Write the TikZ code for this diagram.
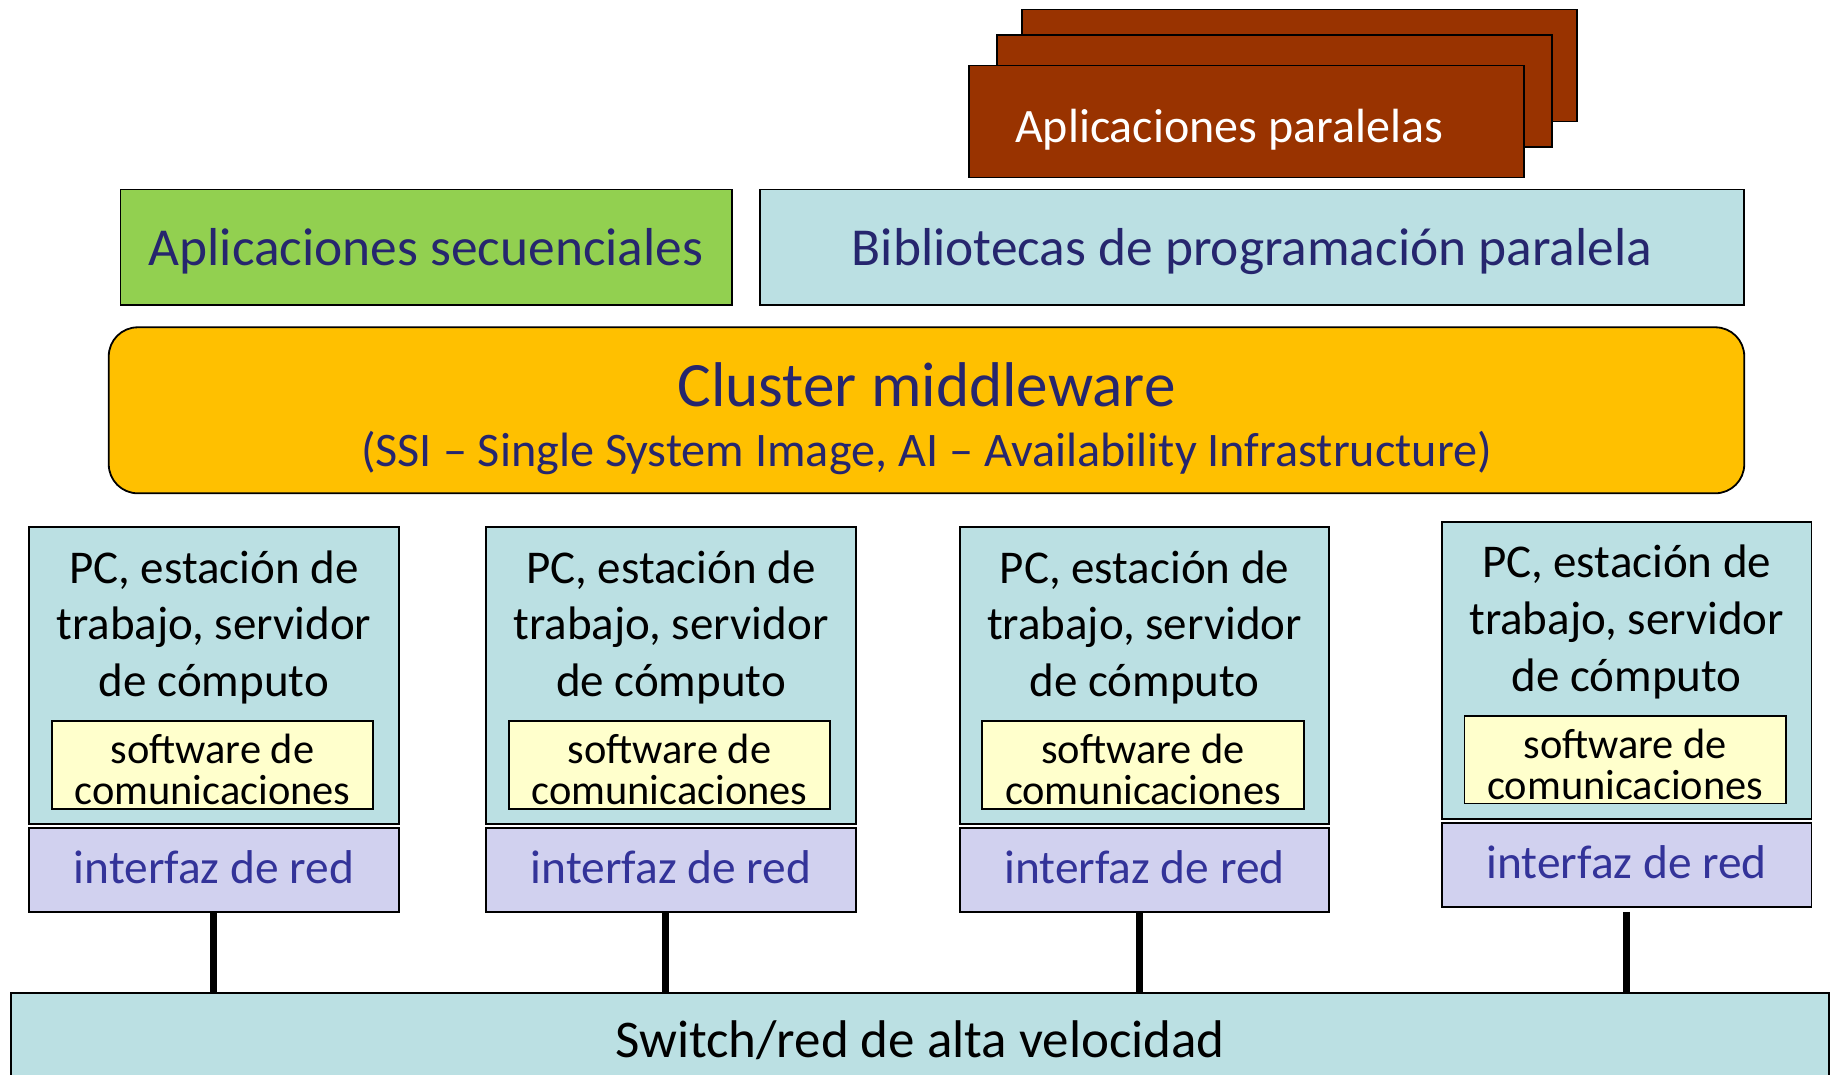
\documentclass[tikz,border=0pt]{standalone}
\usepackage{fontspec}
\setmainfont{Carlito}
\usetikzlibrary{calc}
\definecolor{brownapp}{HTML}{993300}
\definecolor{greenapp}{HTML}{92D050}
\definecolor{cyanbox}{HTML}{BBE0E3}
\definecolor{orangebox}{HTML}{FFC000}
\definecolor{yellowbox}{HTML}{FFFFCC}
\definecolor{lavbox}{HTML}{D1D1EF}
\definecolor{navytext}{HTML}{26266E}
\definecolor{bluetext}{HTML}{333399}
\tikzset{
  box/.style={draw=black, line width=0.9pt, inner sep=0pt, rectangle},
  appbox/.style={box, fill=brownapp, minimum width=277.5pt, minimum height=56pt},
  pcbox/.style={box, fill=cyanbox, minimum width=184.7pt, minimum height=148.5pt},
  swbox/.style={box, fill=yellowbox, minimum width=160.75pt, minimum height=43.85pt},
  nicbox/.style={box, fill=lavbox, minimum width=184.7pt, minimum height=42pt},
  bigtext/.style={text=navytext, inner sep=0pt, font=\fontsize{26.7}{32}\selectfont},
  pctext/.style={align=center, inner sep=0pt, font=\fontsize{23.5}{28.35}\selectfont},
  swtext/.style={align=center, inner sep=0pt, font=\fontsize{21.2}{20.5}\selectfont},
  nictext/.style={text=bluetext, inner sep=0pt, font=\fontsize{23.7}{28}\selectfont},
  net/.style={line width=3.5pt, black},
}
\begin{document}
\begin{tikzpicture}[x=0.5pt, y=-0.5pt]
\clip (0,0) rectangle (1833,1075);
\fill[white] (0,0) rectangle (1833,1075);

% parallel applications stack
\node[appbox] (app3) at (1299.4,65.5) {};
\node[appbox] (app2) at (1274.5,91.2) {};
\node[appbox] (app1) at (1246.5,121.6) {};
\node[text=white, inner sep=0pt, font=\fontsize{24}{28}\selectfont] (apptext) at (1229,130) {Aplicaciones paralelas};

% second layer
\node[box, fill=greenapp, minimum width=305.7pt, minimum height=57.85pt] (seq) at (426.1,247.3) {};
\node[bigtext] (seqtext) at (426.1,251.5) {Aplicaciones secuenciales};
\node[box, fill=cyanbox, minimum width=492.2pt, minimum height=57.85pt] (lib) at (1252,247.3) {};
\node[bigtext] (libtext) at (1252,251.5) {Bibliotecas de programación paralela};

% middleware
\node[box, fill=orangebox, rounded corners=14.5pt, minimum width=817.75pt, minimum height=83pt] (mw) at (926.5,410.3) {};
\node[text=navytext, inner sep=0pt, font=\fontsize{31.6}{36}\selectfont] (mwtitle) at (926.5,384.8) {Cluster middleware};
\node[text=navytext, inner sep=0pt, font=\fontsize{24.1}{28}\selectfont] (mwsub) at (926.5,453.5) {(SSI – Single System Image, AI – Availability Infrastructure)};

% nodes
\foreach \i/\cx/\cy/\ny in {1/213.9/675.7/869.75, 2/671/675.7/869.75, 3/1144.5/675.7/869.75, 4/1626.7/670.4/865} {
  \node[pcbox] (pc\i) at (\cx,\cy) {};
  \node[pctext] (pct\i) at ($(pc\i.north)+(0,101)$) {PC, estación de\\trabajo, servidor\\de cómputo};
  \node[swbox] (sw\i) at ($(pc\i.south)+(-1.5,-60.2)$) {};
  \node[swtext] (swt\i) at ($(sw\i.center)+(0,4.5)$) {software de\\comunicaciones};
  \node[nicbox] (nic\i) at (\cx,\ny) {};
  \node[nictext] (nict\i) at ($(nic\i.center)+(0,-2.5)$) {interfaz de red};
}

% switch
\node[box, fill=cyanbox, minimum width=909pt, minimum height=48.5pt] (sw) at (920,1041.5) {};
\node[inner sep=0pt, font=\fontsize{26.5}{30}\selectfont] (swlabel) at (920,1040) {Switch/red de alta velocidad};

% links
\draw[net] (nic1.south) -- (nic1.south |- sw.north);
\draw[net] ([xshift=-2.6pt]nic2.south) -- ([xshift=-2.6pt]nic2.south |- sw.north);
\draw[net] ([xshift=-2.7pt]nic3.south) -- ([xshift=-2.7pt]nic3.south |- sw.north);
\draw[net] ([yshift=-2pt]nic4.south) -- (nic4.south |- sw.north);
\end{tikzpicture}
\end{document}
